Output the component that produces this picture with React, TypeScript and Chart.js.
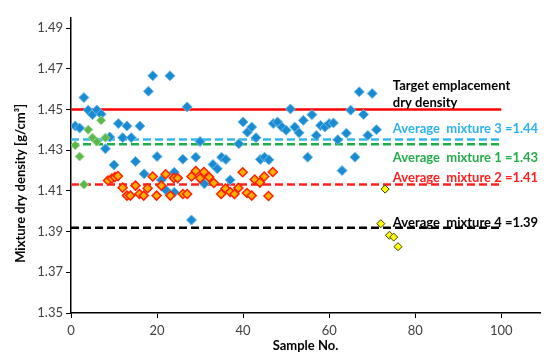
import { useEffect, useRef } from "react";
import { Chart, registerables } from "chart.js";

Chart.register(...registerables);

// Mixture 3 (blue)
const mix3Samples = [1, 2, 3, 4, 5, 6, 7, 8, 9, 10, 11, 12, 13, 14, 15, 16, 17, 18, 19, 20, 21, 22, 23, 24, 24, 26, 27, 28, 29, 30, 31, 33, 34, 35, 36, 37, 39, 40, 41, 42, 43, 44, 45, 46, 47, 48, 49, 50, 51, 52, 53, 54, 55, 56, 57, 58, 59, 60, 61, 62, 63, 64, 65, 66, 67, 68, 69, 70, 71];
const mix3Density = [1.4419, 1.4409, 1.4559, 1.4497, 1.4475, 1.4498, 1.4477, 1.4307, 1.4365, 1.4228, 1.4431, 1.4362, 1.4419, 1.4362, 1.4245, 1.4419, 1.4184, 1.459, 1.4666, 1.4269, 1.4154, 1.4105, 1.4666, 1.4192, 1.4093, 1.4256, 1.4513, 1.3957, 1.4266, 1.4343, 1.4135, 1.423, 1.4209, 1.4266, 1.4255, 1.4154, 1.4332, 1.4439, 1.4389, 1.4414, 1.4362, 1.4255, 1.4266, 1.4253, 1.4431, 1.4439, 1.4414, 1.4398, 1.4503, 1.4414, 1.4386, 1.4447, 1.4266, 1.4475, 1.4373, 1.4422, 1.4414, 1.4431, 1.4434, 1.4352, 1.42, 1.4384, 1.4497, 1.4266, 1.4587, 1.4476, 1.4373, 1.4579, 1.4401];

// Mixture 1 (green)
const mix1Samples = [1, 2, 3, 4, 5, 6, 7, 8];
const mix1Density = [1.4324, 1.4269, 1.4131, 1.4401, 1.4362, 1.4342, 1.4447, 1.4362];

// Mixture 2 (orange)
const mix2Samples = [8.6, 9.5, 10.2, 10.9, 12, 13, 13.8, 15, 15.9, 16.9, 17.8, 19, 19.9, 21, 22, 23.1, 23.9, 24.8, 26, 27, 28, 29, 30, 30.9, 32.1, 33.2, 34.9, 35.9, 37, 38, 38.9, 39.9, 40.9, 42, 42.7, 43.9, 44.9, 45.9, 46.9];
const mix2Density = [1.4151, 1.4161, 1.4168, 1.4173, 1.4116, 1.4077, 1.4077, 1.4126, 1.4085, 1.4077, 1.4113, 1.4171, 1.4077, 1.4126, 1.4182, 1.4077, 1.4163, 1.4163, 1.4085, 1.4085, 1.4171, 1.4198, 1.4162, 1.4193, 1.4168, 1.4139, 1.4085, 1.4112, 1.4095, 1.4085, 1.4115, 1.4192, 1.409, 1.4077, 1.4156, 1.4141, 1.4171, 1.4075, 1.4193];

// Mixture 4 (yellow)
const mix4Samples = [72, 73, 74, 75, 76];
const mix4Density = [1.3939, 1.4109, 1.3882, 1.3873, 1.3826];

// Reference lines
const targetDensity = 1.45;
const avgMix3 = 1.4353;
const avgMix1 = 1.4329;
const avgMix2 = 1.4131;
const avgMix4 = 1.3919;
const lineSamples = [0, 100];

// Ticks
const xTickValues = [0, 20, 40, 60, 80, 100];
const yTickValues = [1.35, 1.37, 1.39, 1.41, 1.43, 1.45, 1.47, 1.49];

// Annotations
const noteTexts = ["Target emplacement", "dry density", "Average  mixture 3 =1.44", "Average  mixture 1 =1.43", "Average  mixture 2 =1.41", "Average  mixture 4 =1.39"];
const noteLevels = [1.4615, 1.4531, 1.4403, 1.4264, 1.4166, 1.3943];
const noteColors = ["#000000", "#000000", "#2cb2ec", "#22ad4a", "#ff1f1f", "#000000"];
const noteSample = 74.8;
const yTitle = "Mixture dry density [g/cm³]";
const yTitleLevel = 1.4137;

const FONT = "Lato, 'Open Sans', 'Liberation Sans', sans-serif";

export default function App() {
  const ref = useRef<HTMLCanvasElement>(null);
  useEffect(() => {
    if (!ref.current) return;
    const pts = (xs: number[], ys: number[]) => xs.map((x, i) => ({ x, y: ys[i] }));
    const hline = (v: number) => lineSamples.map((x) => ({ x, y: v }));
    const notes = {
      id: "notes",
      afterDatasetsDraw(chart: any) {
        const { ctx, scales } = chart;
        ctx.save();
        ctx.font = `bold 13px ${FONT}`;
        ctx.textBaseline = "middle";
        ctx.textAlign = "left";
        noteTexts.forEach((t, i) => {
          ctx.fillStyle = noteColors[i];
          ctx.fillText(t, scales.x.getPixelForValue(noteSample), scales.y.getPixelForValue(noteLevels[i]));
        });
        // y-axis title
        ctx.translate(21, scales.y.getPixelForValue(yTitleLevel));
        ctx.rotate(-Math.PI / 2);
        ctx.textAlign = "center";
        ctx.fillStyle = "#000000";
        ctx.fillText(yTitle, 0, 0);
        ctx.restore();
      },
    };
    const lineDs = (v: number, color: string, dash: number[]) => ({
      type: "line" as const,
      data: hline(v),
      showLine: true,
      pointRadius: 0,
      borderColor: color,
      backgroundColor: color,
      borderWidth: 2.5,
      borderDash: dash,
      fill: false,
    });
    const chart = new Chart(ref.current, {
      type: "scatter",
      data: {
        datasets: [
          { label: "Mixture 4", data: pts(mix4Samples, mix4Density), pointStyle: "rectRot", pointRadius: 4, backgroundColor: "#ffff00", borderColor: "#3a3a00", borderWidth: 1 },
          { label: "Mixture 2", data: pts(mix2Samples, mix2Density), pointStyle: "rectRot", pointRadius: 4.5, backgroundColor: "#ffb000", borderColor: "#ff2000", borderWidth: 1.5 },
          { label: "Mixture 1", data: pts(mix1Samples, mix1Density), pointStyle: "rectRot", pointRadius: 4.5, backgroundColor: "#5cb84c", borderColor: "#9bd68a", borderWidth: 1 },
          { label: "Mixture 3", data: pts(mix3Samples, mix3Density), pointStyle: "rectRot", pointRadius: 5, backgroundColor: "#1a8bd0", borderColor: "#6ab8ea", borderWidth: 1 },
          { ...lineDs(targetDensity, "#ff0000", []), label: "Target" } as any,
          { ...lineDs(avgMix3, "#36b6ee", [8, 4]), label: "Avg 3" } as any,
          { ...lineDs(avgMix1, "#1fae48", [8, 4]), label: "Avg 1" } as any,
          { ...lineDs(avgMix2, "#ff1f1f", [8, 4]), label: "Avg 2" } as any,
          { ...lineDs(avgMix4, "#000000", [8, 4]), label: "Avg 4" } as any,
        ],
      },
      options: {
        animation: false,
        responsive: false,
        layout: { padding: { top: 18, right: 7, left: 0, bottom: 0 } },
        plugins: { legend: { display: false }, tooltip: { enabled: false } },
        scales: {
          x: {
            type: "linear",
            min: 0,
            max: 109,
            afterBuildTicks: (s: any) => { s.ticks = xTickValues.map((value) => ({ value })); },
            afterFit: (s: any) => { s.height = 41; },
            ticks: { padding: 5, maxRotation: 0, color: "#404040", font: { family: FONT, size: 13 } },
            grid: { drawOnChartArea: false, drawTicks: true, tickLength: 5, color: "#000000" },
            border: { color: "#000000", width: 1.5 },
            title: { display: true, text: "Sample No.", color: "#000000", font: { family: FONT, size: 13, weight: "bold" }, padding: 0 },
          },
          y: {
            type: "linear",
            min: 1.35,
            max: 1.495,
            afterBuildTicks: (s: any) => { s.ticks = yTickValues.map((value) => ({ value })); },
            afterFit: (s: any) => { s.width = 71; },
            ticks: { padding: 3, color: "#404040", font: { family: FONT, size: 13 }, callback: (v: any) => Number(v).toFixed(2) },
            grid: { drawOnChartArea: false, drawTicks: true, tickLength: 5, color: "#000000" },
            border: { color: "#000000", width: 1.5 },
            title: { display: false },
          },
        },
      },
      plugins: [notes],
    });
    return () => chart.destroy();
  }, []);
  return (
    <div style={{ position: "absolute", left: 0, top: 0, width: 547, height: 354, background: "#fff" }}>
      <canvas ref={ref} width={547} height={354} style={{ display: "block" }} />
    </div>
  );
}
